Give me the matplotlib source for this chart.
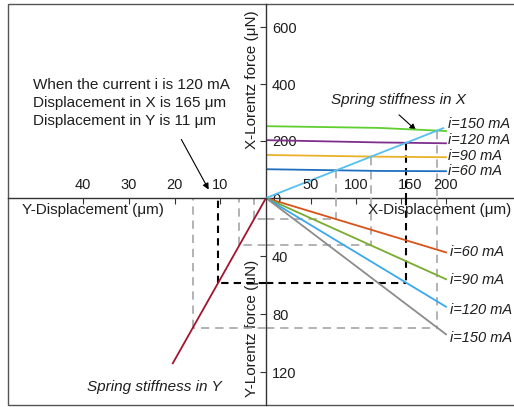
import numpy as np
import matplotlib
matplotlib.use("Agg")
import matplotlib.pyplot as plt
import matplotlib.transforms as mtrans
from matplotlib.patches import Rectangle

plt.rcParams['font.family'] = ['Liberation Sans', 'DejaVu Sans']

### Data
currents = [60, 90, 120, 150]  # mA

# X-Lorentz force (uN) against X displacement (um), upper right
x_disp_pts = [0, 125, 200]
fx_60 = [101, 95, 94]
fx_90 = [151, 145, 143]
fx_120 = [203, 195, 192]
fx_150 = [252, 246, 235]

# Y-Lorentz force (uN) against X displacement (um), lower right
x_disp_ends = [0, 200]
fy_60 = [0, 37.5]
fy_90 = [0, 56]
fy_120 = [0, 75]
fy_150 = [0, 94]

# spring lines
spring_x_disp = [0, 197]
spring_x_force = [0, 245]
spring_y_disp = [0, 20.4]
spring_y_force = [0, 114]

x_ticks = [50, 100, 150, 200]
fx_ticks = [0, 200, 400, 600]
fy_ticks = [40, 80, 120]
y_ticks = [10, 20, 30, 40]

### Styles
col_up = ['#1f6fbf', '#eab12a', '#7e2f8e', '#5fcf2f']
col_low = ['#d95319', '#77ac30', '#3aa8ee', '#8c8c8c']
col_sx = '#55bff0'
col_sy = '#a2142f'
txt = '#1e1e1e'
ax_col = '#333333'
grey_dash = dict(color='#a6a6a6', lw=1.2, ls=(0, (5, 3.5)), zorder=1)
black_dash = dict(color='black', lw=1.5, ls=(0, (3.5, 2.5)), zorder=1)

W, H = 514, 407


def box(x0, y0, x1, y1):
    return [x0 / W, 1 - y1 / H, (x1 - x0) / W, (y1 - y0) / H]


fig = plt.figure(figsize=(W / 100, H / 100), dpi=100)

# background frame / annotation layer in pixel coordinates
bg = fig.add_axes([0, 0, 1, 1])
bg.set_xlim(0, W)
bg.set_ylim(H, 0)
bg.axis('off')
bg.add_patch(Rectangle((8, 4), 520, 401, fill=False, ec='#555555', lw=1.0))

ax_ur = fig.add_axes(box(266, 4, 514, 198))
ax_lr = fig.add_axes(box(266, 198, 514, 405))
ax_ll = fig.add_axes(box(8, 198, 266, 405))
for ax in (ax_ur, ax_lr, ax_ll):
    ax.set_facecolor('none')
    for s in ax.spines.values():
        s.set_visible(False)
        s.set_color(ax_col)
        s.set_linewidth(1.0)

ax_ur.set_xlim(0, 248 / 0.9)
ax_ur.set_ylim(0, 194 / 0.285)
ax_lr.set_xlim(0, 248 / 0.9)
ax_lr.set_ylim(207 / 1.45, 0)
ax_ll.set_xlim(258 / 4.57, 0)
ax_ll.set_ylim(207 / 1.45, 0)

ax_ur.spines['left'].set_visible(True)
ax_ur.spines['bottom'].set_visible(True)
ax_lr.spines['left'].set_visible(True)
ax_ll.spines['top'].set_visible(True)

# ticks
ax_ur.set_xticks([])
ax_ur.set_yticks(fx_ticks)
ax_ur.tick_params(axis='y', direction='out', length=4, pad=-8.3, labelsize=10.5,
                  colors=ax_col, labelcolor=txt)
plt.setp(ax_ur.get_yticklabels(), ha='left')

ax_lr.xaxis.tick_top()
ax_lr.set_xticks(x_ticks)
ax_lr.tick_params(axis='x', direction='in', length=4, pad=4, labelsize=10.5,
                  colors=ax_col, labelcolor=txt)
ax_lr.set_yticks(fy_ticks)
ax_lr.tick_params(axis='y', direction='out', length=4, pad=-8.3, labelsize=10.5,
                  colors=ax_col, labelcolor=txt)
plt.setp(ax_lr.get_yticklabels(), ha='left')
# the "150" label sits a little right of its tick in the original
lbl150 = ax_lr.get_xticklabels()[2]
lbl150.set_transform(lbl150.get_transform() +
                     mtrans.ScaledTranslation(9 / 100, 0, fig.dpi_scale_trans))

ax_ll.xaxis.tick_top()
ax_ll.set_xticks(y_ticks)
ax_ll.tick_params(axis='x', direction='in', length=4, pad=4, labelsize=10.5,
                  colors=ax_col, labelcolor=txt)
ax_ll.set_yticks([])

# axis titles
ax_ur.text(-0.0565, 0.61, 'X-Lorentz force (μN)', rotation=90, ha='center', va='center',
           fontsize=11, color=txt, transform=ax_ur.transAxes)
ax_lr.text(-0.0565, 0.372, 'Y-Lorentz force (μN)', rotation=90, ha='center', va='center',
           fontsize=11, color=txt, transform=ax_lr.transAxes)
ax_lr.text(102 / 248, 1 - 12 / 207, 'X-Displacement (μm)', ha='left', va='center',
           fontsize=11, color=txt, transform=ax_lr.transAxes)
ax_ll.text(14 / 258, 1 - 12 / 207, 'Y-Displacement (μm)', ha='left', va='center',
           fontsize=11, color=txt, transform=ax_ll.transAxes)

fx_all = [fx_60, fx_90, fx_120, fx_150]
fy_all = [fy_60, fy_90, fy_120, fy_150]

### Read-out projections (from the intersections of the curves)
k_x = spring_x_force[1] / spring_x_disp[1]
k_y = spring_y_force[1] / spring_y_disp[1]
d = np.linspace(0, 200, 4001)
for cur, fx, fy in zip(currents, fx_all, fy_all):
    f = np.interp(d, x_disp_pts, fx)
    dx = d[np.argmin(np.abs(f - k_x * d))]
    fxv = k_x * dx
    fyv = np.interp(dx, x_disp_ends, fy)
    dy = fyv / k_y
    st = black_dash if cur == 120 else grey_dash
    ax_ur.plot([dx, dx], [fxv, 0], **st)
    ax_lr.plot([dx, dx], [0, fyv], **st)
    ax_lr.plot([0, dx], [fyv, fyv], **st)
    ax_ll.plot([0, dy], [fyv, fyv], **st)
    ax_ll.plot([dy, dy], [fyv, 0], **st)

### Curves
up_off = [0, 0.7, 2.2, 5]
low_off = [0, -0.8, -2.5, -3]
for cur, fx, fy, cu, cl, ou, ol in zip(currents, fx_all, fy_all, col_up, col_low, up_off, low_off):
    ax_ur.plot(x_disp_pts, fx, color=cu, lw=1.3, zorder=2)
    ax_lr.plot(x_disp_ends, fy, color=cl, lw=1.3, zorder=2)
    ax_ur.annotate('i=%d mA' % cur, xy=(x_disp_pts[-1], fx[-1]), xytext=(1.5, ou),
                   textcoords='offset points', ha='left', va='center', fontsize=10.5,
                   style='italic', color=txt, annotation_clip=False)
    ax_lr.annotate('i=%d mA' % cur, xy=(x_disp_ends[-1], fy[-1]), xytext=(3, ol),
                   textcoords='offset points', ha='left', va='center', fontsize=10.5,
                   style='italic', color=txt, annotation_clip=False)

ax_ur.plot(spring_x_disp, spring_x_force, color=col_sx, lw=1.3, zorder=3)
ax_ll.plot(spring_y_disp, spring_y_force, color=col_sy, lw=1.3, zorder=3)

### Notes
bg.text(33, 103, 'When the current i is 120 mA\nDisplacement in X is 165 μm\nDisplacement in Y is 11 μm',
        ha='left', va='center', multialignment='left', fontsize=11, color=txt, linespacing=1.35)
bg.annotate('', xy=(210, 192), xytext=(180, 137),
            arrowprops=dict(arrowstyle='-|>', color='black', lw=0.8, mutation_scale=9))
bg.text(398, 100, 'Spring stiffness in X', ha='center', va='center', fontsize=11,
        style='italic', color=txt)
bg.annotate('', xy=(418, 132), xytext=(397, 113),
            arrowprops=dict(arrowstyle='-|>', color='black', lw=0.8, mutation_scale=9))
bg.text(154, 387, 'Spring stiffness in Y', ha='center', va='center', fontsize=11,
        style='italic', color=txt)

fig.savefig('out.png', dpi=100)
